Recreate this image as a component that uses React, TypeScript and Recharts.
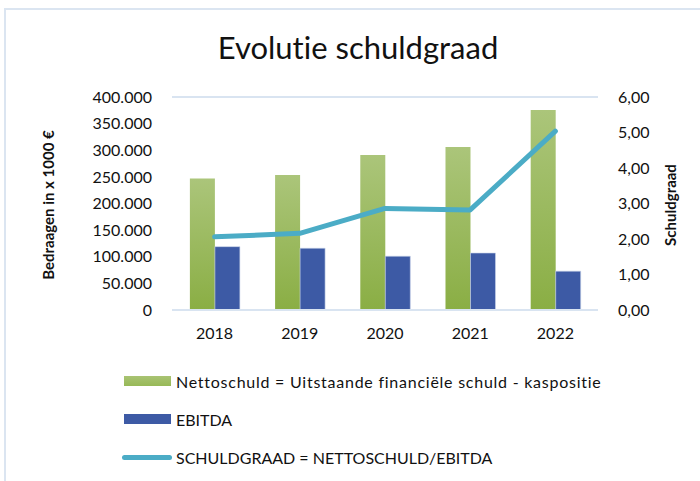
import { ComposedChart, Bar, Line, XAxis, YAxis, CartesianGrid } from "recharts";

const YEARS = ["2018", "2019", "2020", "2021", "2022"];
const NETTOSCHULD = [247000, 253500, 291000, 306000, 375500];
const EBITDA = [119000, 116000, 101000, 107000, 73000];
const SCHULDGRAAD = [2.06, 2.16, 2.86, 2.82, 5.04];
const LEFT_TICKS = [0, 50000, 100000, 150000, 200000, 250000, 300000, 350000, 400000];
const RIGHT_TICKS = [0, 1, 2, 3, 4, 5, 6];

const FONT = "Lato, 'Open Sans', sans-serif";
const GREEN_TOP = "#abc57a";
const GREEN_BOTTOM = "#8aae44";
const BLUE = "#3d5aa5";
const LINE = "#4bacc6";

const data = YEARS.map((year, i) => ({
  year,
  netto: NETTOSCHULD[i],
  ebitda: EBITDA[i],
  graad: SCHULDGRAAD[i],
}));

const fmtThousands = (v: number) => (v === 0 ? "0" : v.toLocaleString("de-DE"));
const fmtDec = (v: number) => v.toFixed(2).replace(".", ",");

const legendItems = [
  { label: "Nettoschuld = Uitstaande financiële schuld - kaspositie", kind: "green", top: 372, spacing: 0.75 },
  { label: "EBITDA", kind: "blue", top: 410, spacing: 0 },
  { label: "SCHULDGRAAD = NETTOSCHULD/EBITDA", kind: "line", top: 448, spacing: 0 },
];

export default function App() {
  return (
    <div style={{ position: "absolute", left: 0, top: 0, width: 700, height: 481, background: "#fff", fontFamily: FONT, overflow: "hidden", fontVariantLigatures: "none" }}>
      <div style={{ position: "absolute", left: 4, top: 8, width: 720, height: 500, borderLeft: "2px solid #dbe5f1", borderTop: "2px solid #dbe5f1" }} />
      <div style={{ position: "absolute", left: 0, width: 716, top: 28, textAlign: "center", fontSize: 31, color: "#111", lineHeight: "38px" }}>
        Evolutie schuldgraad
      </div>
      <ComposedChart
        width={700}
        height={481}
        data={data}
        margin={{ top: 97, right: 42, left: 112, bottom: 141 }}
        barCategoryGap="21%"
        barGap={0}
        style={{ position: "absolute", left: 0, top: 0 }}
      >
        <defs>
          <linearGradient id="greenGrad" x1="0" y1="0" x2="0" y2="1">
            <stop offset="0%" stopColor={GREEN_TOP} />
            <stop offset="100%" stopColor={GREEN_BOTTOM} />
          </linearGradient>
        </defs>
        <CartesianGrid vertical={false} stroke="#d9e4f1" strokeWidth={2} />
        <XAxis
          dataKey="year"
          axisLine={{ stroke: "#d9e4f1", strokeWidth: 2 }}
          tickLine={false}
          tickSize={0}
          tickMargin={18}
          height={30}
          tick={{ fill: "#111", fontSize: 16, fontFamily: FONT }}
        />
        <YAxis
          yAxisId="left"
          domain={[0, 400000]}
          ticks={LEFT_TICKS}
          tickFormatter={fmtThousands}
          axisLine={false}
          tickLine={false}
          tickSize={0}
          tickMargin={20}
          width={60}
          interval={0}
          tick={{ fill: "#111", fontSize: 16, fontFamily: FONT }}
        />
        <YAxis
          yAxisId="right"
          orientation="right"
          domain={[0, 6]}
          ticks={RIGHT_TICKS}
          tickFormatter={fmtDec}
          axisLine={false}
          tickLine={false}
          tickSize={0}
          tickMargin={20}
          width={60}
          interval={0}
          tick={{ fill: "#111", fontSize: 16, fontFamily: FONT, textAnchor: "start" }}
        />
        <Bar yAxisId="left" dataKey="netto" fill="url(#greenGrad)" isAnimationActive={false} />
        <Bar yAxisId="left" dataKey="ebitda" fill={BLUE} stroke="#c9d3ea" strokeWidth={0.6} isAnimationActive={false} />
        <Line
          yAxisId="right"
          dataKey="graad"
          stroke={LINE}
          strokeWidth={5}
          dot={false}
          strokeLinejoin="round"
          strokeLinecap="round"
          isAnimationActive={false}
        />
      </ComposedChart>
      <div style={{ position: "absolute", left: 48, top: 205, transform: "translate(-50%, -50%) rotate(-90deg)", whiteSpace: "nowrap", fontWeight: 700, fontSize: 15, color: "#111" }}>
        Bedraagen in x 1000 €
      </div>
      <div style={{ position: "absolute", left: 670, top: 205, transform: "translate(-50%, -50%) rotate(-90deg)", whiteSpace: "nowrap", fontWeight: 700, fontSize: 15, color: "#111" }}>
        Schuldgraad
      </div>
      {legendItems.map((item) => (
        <div key={item.label} style={{ position: "absolute", left: 122, top: item.top, height: 18, display: "flex", alignItems: "center", whiteSpace: "nowrap", fontSize: 16, color: "#111" }}>
          {item.kind === "line" ? (
            <span style={{ display: "inline-block", width: 50, height: 5, borderRadius: 3, background: LINE }} />
          ) : (
            <span style={{ display: "inline-block", marginLeft: 2, width: 47, height: 10, background: item.kind === "green" ? "linear-gradient(#a9c373, #97b957)" : BLUE }} />
          )}
          <span style={{ marginLeft: item.kind === "line" ? 4 : 5, letterSpacing: item.spacing }}>{item.label}</span>
        </div>
      ))}
    </div>
  );
}
